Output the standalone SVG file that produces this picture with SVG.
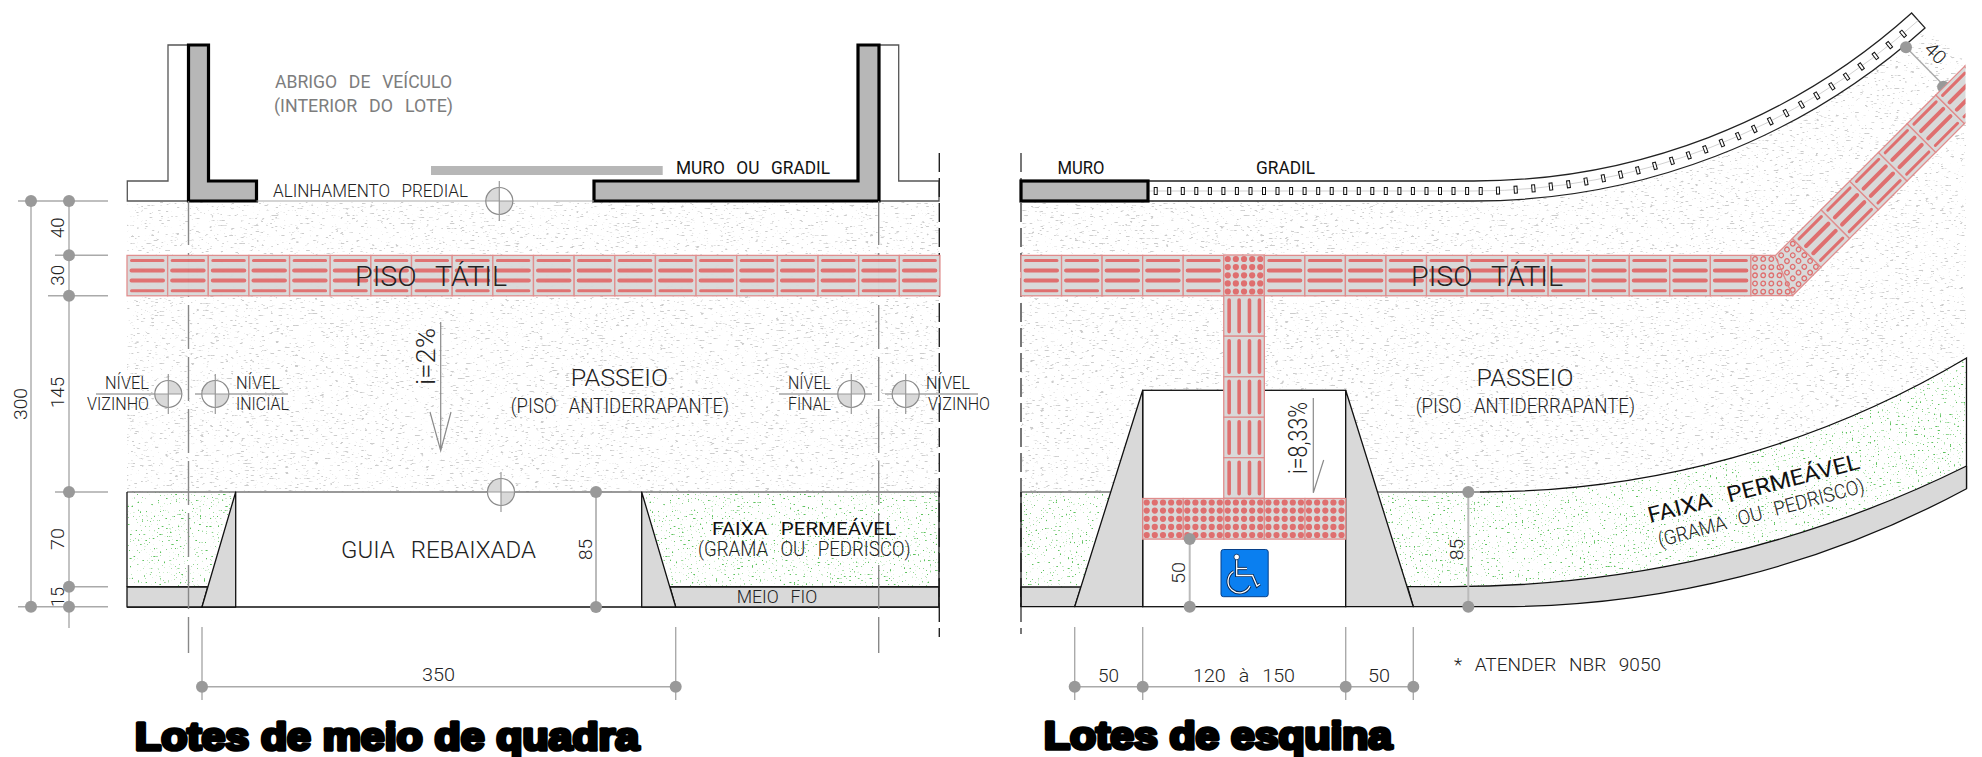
<svg xmlns="http://www.w3.org/2000/svg" width="1982" height="757" viewBox="0 0 1982 757">
<style>
.t{font-family:"Roboto","Liberation Sans",Arial,sans-serif;font-weight:300;fill:#222;word-spacing:.42em}
.m{font-weight:400;fill:#111}
.g{fill:#7d7d7d;font-weight:400}
.title{font-family:"Liberation Sans",Arial,sans-serif;font-weight:700;fill:#000;stroke:#000;stroke-width:3.6;stroke-linejoin:round;font-size:38px}
.dim{stroke:#aaa;stroke-width:1.4;fill:none}
.dimb{stroke:#bbb;stroke-width:2;fill:none}
.dot{fill:#999}
.wall{fill:#b7b7b7;stroke:#000;stroke-width:3.2}
.out{fill:#fff;stroke:#555;stroke-width:1.3}
.curb{fill:#d9d9d9;stroke:#111;stroke-width:1.3;stroke-linejoin:round}
.ln{stroke:#111;stroke-width:1.3;fill:none}
.lg{stroke:#777;stroke-width:1.6;fill:none}
.lt{stroke:#aaa;stroke-width:1.2;fill:none}
.dk{stroke:#888;stroke-width:1.4;fill:none;stroke-dasharray:44 8}
.dkb{stroke:#222;stroke-width:1.4;fill:none;stroke-dasharray:19 6}
.dkg{stroke:#777;stroke-width:2;fill:none;stroke-dasharray:19 6}
</style>
<defs>
<filter id="speck" x="0" y="0" width="1" height="1" color-interpolation-filters="sRGB"><feTurbulence type="fractalNoise" baseFrequency=".2 .6" numOctaves="2" seed="5"/><feColorMatrix type="matrix" values="0 0 0 0 .8 0 0 0 0 .8 0 0 0 0 .8 9 0 0 0 -5.85"/></filter>
<filter id="grass" x="0" y="0" width="1" height="1" color-interpolation-filters="sRGB"><feTurbulence type="fractalNoise" baseFrequency=".5" numOctaves="2" seed="11"/><feColorMatrix type="matrix" values="0 0 0 0 .36 0 0 0 0 .76 0 0 0 0 .36 14 0 0 0 -9.55"/></filter>
<clipPath id="pavL"><rect x="127" y="202" width="812" height="290"/></clipPath>
<clipPath id="pavR"><path d="M1021 201H1474A674 674 0 0 0 1925 28L1966 62V358A952 952 0 0 1 1480 492H1021Z"/></clipPath>
<clipPath id="grL1"><path d="M127 492H235.7L207.7 587H127Z"/></clipPath>
<clipPath id="grL2"><path d="M641.7 492H939V587H670Z"/></clipPath>
<clipPath id="grR1"><path d="M1021 492H1110.7L1081 587H1021Z"/></clipPath>
<clipPath id="grR2"><path d="M1377.5 492H1480A952 952 0 0 0 1966 358V466A1165 1165 0 0 1 1452 586.7H1407.5Z"/></clipPath>
<clipPath id="cut"><rect x="1700" y="0" width="265.5" height="320"/></clipPath>
<clipPath id="jA"><path d="M1751 255.3H1775L1792.7 295.3H1751Z"/></clipPath>
<clipPath id="jB"><path d="M0 0H40V-40.6H15.6Z"/></clipPath>
<g id="tH"><rect width="40.6" height="40.4" fill="#d9d9d9" stroke="#e08c8c" stroke-width="1.3"/><path d="M4.5 5H36M4.5 35.3H36" stroke="#df6f6f" stroke-width="3" stroke-linecap="round"/><path d="M4.5 15H36M4.5 25.2H36" stroke="#df6f6f" stroke-width="4" stroke-linecap="round"/></g>
<g id="tV"><rect width="40.6" height="40.6" fill="#d9d9d9" stroke="#e08c8c" stroke-width="1.3"/><path d="M5.4 4.5V36M15.4 4.5V36M25.7 4.5V36M35.7 4.5V36" stroke="#df6f6f" stroke-width="3.6" stroke-linecap="round"/></g>
<g id="dots" fill="#df6f6f"><circle cx="4" cy="0" r="3.1"/><circle cx="12.1" cy="0" r="3.1"/><circle cx="20.3" cy="0" r="3.1"/><circle cx="28.4" cy="0" r="3.1"/><circle cx="36.5" cy="0" r="3.1"/></g>
<g id="tD"><rect width="40.6" height="40.6" fill="#d9d9d9" stroke="#e08c8c" stroke-width="1.3"/><use href="#dots" y="4"/><use href="#dots" y="12.1"/><use href="#dots" y="20.3"/><use href="#dots" y="28.4"/><use href="#dots" y="36.5"/></g>
<g id="rings" fill="none" stroke="#df6f6f" stroke-width="1.3"><circle cx="4" cy="0" r="2.3"/><circle cx="12.2" cy="0" r="2.3"/><circle cx="20.3" cy="0" r="2.3"/><circle cx="28.5" cy="0" r="2.3"/><circle cx="36.7" cy="0" r="2.3"/></g>
<g id="tR"><use href="#rings" y="4"/><use href="#rings" y="12.2"/><use href="#rings" y="20.3"/><use href="#rings" y="28.5"/><use href="#rings" y="36.7"/></g>
<rect id="p" x="-1.5" y="-3.5" width="3" height="7" fill="#fff" stroke="#111" stroke-width="1"/>
<rect id="pa" x="1472.5" y="187.5" width="3" height="7" fill="#fff" stroke="#111" stroke-width="1"/>
<circle id="d" r="6" class="dot"/>
<g id="symA"><circle r="13.5" fill="#fff"/><path d="M0 0V-13.5A13.5 13.5 0 0 1 13.5 0ZM0 0V13.5A13.5 13.5 0 0 1 -13.5 0Z" fill="#d9d9d9"/><circle r="13.5" fill="none" stroke="#8a8a8a" stroke-width="1.2"/><path d="M0 -20V20M-14 0H14" stroke="#999" stroke-width="1.2"/></g>
<g id="symB"><circle r="13.5" fill="#fff"/><path d="M0 0H-13.5A13.5 13.5 0 0 1 0 -13.5ZM0 0H13.5A13.5 13.5 0 0 1 0 13.5Z" fill="#d9d9d9"/><circle r="13.5" fill="none" stroke="#8a8a8a" stroke-width="1.2"/><path d="M0 -20V20M-14 0H14" stroke="#999" stroke-width="1.2"/></g>
</defs>

<g id="textures">
<g clip-path="url(#pavL)"><rect x="127" y="202" width="812" height="290" filter="url(#speck)"/></g>
<g clip-path="url(#pavR)"><rect x="1021" y="0" width="946" height="492" filter="url(#speck)"/></g>
<g clip-path="url(#grL1)"><rect x="127" y="492" width="112" height="96" filter="url(#grass)"/></g>
<g clip-path="url(#grL2)"><rect x="641" y="492" width="298" height="96" filter="url(#grass)"/></g>
<g clip-path="url(#grR1)"><rect x="1021" y="492" width="92" height="96" filter="url(#grass)"/></g>
<g clip-path="url(#grR2)"><rect x="1377" y="350" width="590" height="240" filter="url(#grass)"/></g>
</g>

<g id="lote-meio-muros">
<path d="M127.3 201V181H168V45H188.5V201Z" class="out"/>
<path d="M879 45H898.7V181H939V201H879Z" class="out"/>
<path d="M188.5 45H208.5V181H256.5V201H188.5Z" class="wall"/>
<path d="M858 45H879V201H594V181H858Z" class="wall"/>
<rect x="431" y="166" width="231.7" height="9" fill="#b7b7b7"/>
<path d="M256.5 201H594" class="lt"/>
</g>

<g id="lote-meio-calcada">
<path d="M127 492H939" class="lg"/>
<path d="M127 607H939M127 587H207.7M670 587H939" class="ln"/>
<path d="M127 587H207.7L202 607H127Z" class="curb"/>
<path d="M670 587H939V607H675.7Z" class="curb"/>
<path d="M235.7 492V607H202Z" class="curb"/>
<path d="M641.7 492V607H675.7Z" class="curb"/>
<path d="M127 492V587M939 492V607" class="ln"/>
</g>

<g id="eixos">
<path d="M188.5 201V653" class="dk"/>
<path d="M878.7 201V653" class="dk"/>
<path d="M939.3 153V637" class="dkb"/>
<path d="M1021 153V634" class="dkg"/>
</g>

<g id="lote-meio-piso" opacity=".97">
<use href="#tH" x="127" y="255.4"/><use href="#tH" x="167.65" y="255.4"/><use href="#tH" x="208.3" y="255.4"/><use href="#tH" x="248.95" y="255.4"/><use href="#tH" x="289.6" y="255.4"/><use href="#tH" x="330.25" y="255.4"/><use href="#tH" x="370.9" y="255.4"/><use href="#tH" x="411.55" y="255.4"/><use href="#tH" x="452.2" y="255.4"/><use href="#tH" x="492.85" y="255.4"/><use href="#tH" x="533.5" y="255.4"/><use href="#tH" x="574.15" y="255.4"/><use href="#tH" x="614.8" y="255.4"/><use href="#tH" x="655.45" y="255.4"/><use href="#tH" x="696.1" y="255.4"/><use href="#tH" x="736.75" y="255.4"/><use href="#tH" x="777.4" y="255.4"/><use href="#tH" x="818.05" y="255.4"/><use href="#tH" x="858.7" y="255.4"/><use href="#tH" x="899.35" y="255.4"/>
</g>

<g id="esquina-gradil">
<path d="M1148 181H1474A654 654 0 0 0 1911.6 13L1925 27.9A674 674 0 0 1 1474 201H1148Z" fill="#fff" stroke="#222" stroke-width="1.3"/>
<path d="M1148 191H1474A664 664 0 0 0 1918.3 20.4" fill="none" stroke="#ccc" stroke-width=".9"/>
<use href="#p" x="1155.7" y="191"/><use href="#p" x="1169.2" y="191"/><use href="#p" x="1182.8" y="191"/><use href="#p" x="1196.3" y="191"/><use href="#p" x="1209.9" y="191"/><use href="#p" x="1223.4" y="191"/><use href="#p" x="1236.9" y="191"/><use href="#p" x="1250.5" y="191"/><use href="#p" x="1264" y="191"/><use href="#p" x="1277.5" y="191"/><use href="#p" x="1291.1" y="191"/><use href="#p" x="1304.6" y="191"/><use href="#p" x="1318.2" y="191"/><use href="#p" x="1331.7" y="191"/><use href="#p" x="1345.2" y="191"/><use href="#p" x="1358.8" y="191"/><use href="#p" x="1372.3" y="191"/><use href="#p" x="1385.8" y="191"/><use href="#p" x="1399.4" y="191"/><use href="#p" x="1412.9" y="191"/><use href="#p" x="1426.5" y="191"/><use href="#p" x="1440" y="191"/><use href="#p" x="1453.5" y="191"/><use href="#p" x="1467.1" y="191"/><use href="#p" x="1480.7" y="191"/>
<use href="#pa" transform="rotate(-2.07 1474 -473)"/><use href="#pa" transform="rotate(-3.6 1474 -473)"/><use href="#pa" transform="rotate(-5.13 1474 -473)"/><use href="#pa" transform="rotate(-6.65 1474 -473)"/><use href="#pa" transform="rotate(-8.18 1474 -473)"/><use href="#pa" transform="rotate(-9.71 1474 -473)"/><use href="#pa" transform="rotate(-11.23 1474 -473)"/><use href="#pa" transform="rotate(-12.76 1474 -473)"/><use href="#pa" transform="rotate(-14.29 1474 -473)"/><use href="#pa" transform="rotate(-15.81 1474 -473)"/><use href="#pa" transform="rotate(-17.34 1474 -473)"/><use href="#pa" transform="rotate(-18.87 1474 -473)"/><use href="#pa" transform="rotate(-20.39 1474 -473)"/><use href="#pa" transform="rotate(-21.92 1474 -473)"/><use href="#pa" transform="rotate(-23.45 1474 -473)"/><use href="#pa" transform="rotate(-24.97 1474 -473)"/><use href="#pa" transform="rotate(-26.5 1474 -473)"/><use href="#pa" transform="rotate(-28.03 1474 -473)"/><use href="#pa" transform="rotate(-29.55 1474 -473)"/><use href="#pa" transform="rotate(-31.08 1474 -473)"/><use href="#pa" transform="rotate(-32.61 1474 -473)"/><use href="#pa" transform="rotate(-34.13 1474 -473)"/><use href="#pa" transform="rotate(-35.66 1474 -473)"/><use href="#pa" transform="rotate(-37.19 1474 -473)"/><use href="#pa" transform="rotate(-38.71 1474 -473)"/><use href="#pa" transform="rotate(-40.25 1474 -473)"/>
<rect x="1021" y="181" width="127" height="20" class="wall"/>
</g>

<g id="esquina-calcada">
<path d="M1021 492H1110.7M1377.5 492H1480" class="lg"/>
<path d="M1480 492A952 952 0 0 0 1966.5 358V488.7" class="ln"/>
<path d="M1021 587H1081L1074.7 606.7H1021Z" class="curb"/>
<path d="M1407.5 586.7H1452A1165 1165 0 0 0 1966.5 466V488.7A983 983 0 0 1 1500 606.7H1413.3Z" class="curb"/>
<path d="M1021 492V607" class="ln"/>
</g>

<g id="esquina-rampa">
<rect x="1142.7" y="390.3" width="203" height="216.4" fill="#fff" stroke="#111" stroke-width="1.3"/>
<path d="M1142.7 390.3V606.7H1074.7Z" class="curb"/>
<path d="M1345.7 390.3V606.7H1413.3Z" class="curb"/>
</g>

<g id="esquina-piso">
<use href="#tH" x="1021" y="255.4"/><use href="#tH" x="1061.55" y="255.4"/><use href="#tH" x="1102.1" y="255.4"/><use href="#tH" x="1142.65" y="255.4"/><use href="#tH" x="1183.2" y="255.4"/><use href="#tD" x="1223.75" y="255"/><use href="#tH" x="1264.3" y="255.4"/><use href="#tH" x="1304.85" y="255.4"/><use href="#tH" x="1345.4" y="255.4"/><use href="#tH" x="1385.95" y="255.4"/><use href="#tH" x="1426.5" y="255.4"/><use href="#tH" x="1467.05" y="255.4"/><use href="#tH" x="1507.6" y="255.4"/><use href="#tH" x="1548.15" y="255.4"/><use href="#tH" x="1588.7" y="255.4"/><use href="#tH" x="1629.25" y="255.4"/><use href="#tH" x="1669.8" y="255.4"/><use href="#tH" x="1710.35" y="255.4"/>
<path d="M1750.9 255.4H1775L1792.7 295.6H1750.9Z" fill="#d9d9d9" stroke="#e08c8c" stroke-width="1.2"/>
<g clip-path="url(#jA)"><use href="#tR" x="1751" y="255"/></g>
<use href="#tV" x="1223.75" y="295.6"/><use href="#tV" x="1223.75" y="336.2"/><use href="#tV" x="1223.75" y="376.8"/><use href="#tV" x="1223.75" y="417.2"/><use href="#tV" x="1223.75" y="457.7"/>
<use href="#tD" x="1142.7" y="498.5"/><use href="#tD" x="1183.3" y="498.5"/><use href="#tD" x="1223.75" y="498.5"/><use href="#tD" x="1264.4" y="498.5"/><use href="#tD" x="1305" y="498.5"/>
<g clip-path="url(#cut)"><g transform="translate(1792.7 295.5) rotate(-45)">
<path d="M0 0H40V-40.6H15.6Z" fill="#d9d9d9" stroke="#e08c8c" stroke-width="1.2"/>
<g clip-path="url(#jB)"><use href="#tR" x="0" y="-40.6"/></g>
<use href="#tH" x="40" y="-40.5"/><use href="#tH" x="80.6" y="-40.5"/><use href="#tH" x="121.2" y="-40.5"/><use href="#tH" x="161.8" y="-40.5"/><use href="#tH" x="202.4" y="-40.5"/><use href="#tH" x="243" y="-40.5"/><use href="#tH" x="283.6" y="-40.5"/>
</g></g>
</g>

<g id="simbolo-acessibilidade">
<rect x="1221" y="549.5" width="47.2" height="47.2" rx="2.5" fill="#0a7ff0" stroke="#06408a" stroke-width="1"/>
<g fill="none" stroke="#0a2a55" stroke-width="3.2"><path d="M1236.7 560V575.5H1252.5L1257 586L1260 584"/><path d="M1236.7 568.5H1247"/><path d="M1233.5 571.5A11.5 11.5 0 1 0 1250 586"/></g>
<g fill="none" stroke="#fff" stroke-width="1.3"><path d="M1236.7 560V575.5H1252.5L1257 586L1260 584"/><path d="M1236.7 568.5H1247"/><path d="M1233.5 571.5A11.5 11.5 0 1 0 1250 586"/></g>
<circle cx="1236.7" cy="557" r="2.8" fill="#fff" stroke="#0a2a55" stroke-width=".8"/>
</g>

<g id="niveis">
<path d="M96 394H181M195 394H288M779 394H872M885 394H978" class="dimb" stroke-width="1.6"/>
<use href="#symA" x="168.3" y="394"/><use href="#symB" x="215.3" y="394"/>
<use href="#symA" x="851.3" y="394"/><use href="#symB" x="905.7" y="394"/>
<use href="#symB" x="499.3" y="201"/><use href="#symB" x="501" y="492"/>
</g>

<g id="connectors">
<path d="M18 201H108M55 255.3H108M48 295.7H108M55 492H108M69 586.7H108M18 606.7H108M31 201V606.7M69 201V628" class="dim"/>
<use href="#d" x="31" y="201"/><use href="#d" x="69" y="201"/><use href="#d" x="69" y="255.3"/><use href="#d" x="69" y="295.7"/><use href="#d" x="69" y="492"/><use href="#d" x="69" y="586.7"/><use href="#d" x="69" y="606.7"/><use href="#d" x="31" y="606.7"/>
<path d="M596 492V607" class="dimb"/><use href="#d" x="596" y="492"/><use href="#d" x="596" y="607"/>
<path d="M202 686.7H675.7M202 627V700M675.7 627V700" class="dim"/><use href="#d" x="202" y="686.7"/><use href="#d" x="675.7" y="686.7"/>
<path d="M1074.7 686.7H1413.3M1074.7 627V700M1142.7 627V700M1345.7 627V700M1413.3 627V700" class="dim"/>
<use href="#d" x="1074.7" y="686.7"/><use href="#d" x="1142.7" y="686.7"/><use href="#d" x="1345.7" y="686.7"/><use href="#d" x="1413.3" y="686.7"/>
<path d="M1189.7 539V606.7" class="dimb"/><use href="#d" x="1189.7" y="539"/><use href="#d" x="1189.7" y="606.7"/>
<path d="M1468.3 492V606.7" class="dimb"/><use href="#d" x="1468.3" y="492"/><use href="#d" x="1468.3" y="606.7"/>
<path d="M1906 47.3L1943.3 85" class="dim"/><use href="#d" x="1906" y="47.3"/>
<path d="M1939 91.5A6.2 6.2 0 0 1 1948 82.5Z" class="dot"/>
<path d="M440.7 322V450.7M430 412L440.7 450.7L451 412" fill="none" stroke="#8a8a8a" stroke-width="1.2"/>
<path d="M1313.3 398V492.7L1323.7 460" fill="none" stroke="#8a8a8a" stroke-width="1.2"/>
</g>

<g id="labels">
<text class="t g" x="275" y="88.3" font-size="19" textLength="177" lengthAdjust="spacingAndGlyphs">ABRIGO DE VEÍCULO</text>
<text class="t g" x="274" y="111.7" font-size="19" textLength="179" lengthAdjust="spacingAndGlyphs">(INTERIOR DO LOTE)</text>
<text class="t" x="273" y="197.3" font-size="19" textLength="195" lengthAdjust="spacingAndGlyphs">ALINHAMENTO PREDIAL</text>
<text class="t m" x="676" y="173.7" font-size="19" textLength="154" lengthAdjust="spacingAndGlyphs">MURO OU GRADIL</text>
<text class="t" x="355" y="285.7" font-size="28" textLength="152" lengthAdjust="spacingAndGlyphs">PISO TÁTIL</text>
<text class="t" x="1411" y="285.7" font-size="28" textLength="152" lengthAdjust="spacingAndGlyphs">PISO TÁTIL</text>
<text class="t" x="105" y="389" font-size="18" textLength="44" lengthAdjust="spacingAndGlyphs">NÍVEL</text>
<text class="t" x="87" y="409.5" font-size="18" textLength="62" lengthAdjust="spacingAndGlyphs">VIZINHO</text>
<text class="t" x="236" y="389" font-size="18" textLength="44" lengthAdjust="spacingAndGlyphs">NÍVEL</text>
<text class="t" x="236" y="409.5" font-size="18" textLength="53" lengthAdjust="spacingAndGlyphs">INICIAL</text>
<text class="t" x="788" y="389" font-size="18" textLength="43" lengthAdjust="spacingAndGlyphs">NÍVEL</text>
<text class="t" x="788" y="409.5" font-size="18" textLength="43" lengthAdjust="spacingAndGlyphs">FINAL</text>
<text class="t" x="926" y="389" font-size="18" textLength="44" lengthAdjust="spacingAndGlyphs">NÍVEL</text>
<text class="t" x="928" y="409.5" font-size="18" textLength="62" lengthAdjust="spacingAndGlyphs">VIZINHO</text>
<text class="t" x="570.7" y="385.7" font-size="23" textLength="97.3" lengthAdjust="spacingAndGlyphs">PASSEIO</text>
<text class="t" x="510.7" y="413.3" font-size="21" textLength="218.3" lengthAdjust="spacingAndGlyphs">(PISO ANTIDERRAPANTE)</text>
<text class="t" x="341" y="557.7" font-size="24" textLength="195" lengthAdjust="spacingAndGlyphs">GUIA REBAIXADA</text>
<text class="t m" x="712" y="535" font-size="19" textLength="184" lengthAdjust="spacingAndGlyphs">FAIXA PERMEÁVEL</text>
<text class="t" x="698" y="555.7" font-size="20" textLength="212.7" lengthAdjust="spacingAndGlyphs">(GRAMA OU PEDRISCO)</text>
<text class="t" x="736.7" y="602.7" font-size="18" textLength="80.6" lengthAdjust="spacingAndGlyphs">MEIO FIO</text>
<text class="t" x="422" y="681" font-size="19" textLength="33" lengthAdjust="spacingAndGlyphs">350</text>
<text class="t" transform="translate(26.7 420) rotate(-90)" font-size="19" textLength="32" lengthAdjust="spacingAndGlyphs">300</text>
<text class="t" transform="translate(64 238) rotate(-90)" font-size="19" textLength="20.5" lengthAdjust="spacingAndGlyphs">40</text>
<text class="t" transform="translate(64 285.7) rotate(-90)" font-size="19" textLength="20.7" lengthAdjust="spacingAndGlyphs">30</text>
<text class="t" transform="translate(64 408) rotate(-90)" font-size="19" textLength="31" lengthAdjust="spacingAndGlyphs">145</text>
<text class="t" transform="translate(64 550) rotate(-90)" font-size="19" textLength="22" lengthAdjust="spacingAndGlyphs">70</text>
<text class="t" transform="translate(64 607) rotate(-90)" font-size="19" textLength="20" lengthAdjust="spacingAndGlyphs">15</text>
<text class="t" transform="translate(591.7 560) rotate(-90)" font-size="19" textLength="21" lengthAdjust="spacingAndGlyphs">85</text>
<text class="t" transform="translate(435 385) rotate(-90)" font-size="25" textLength="57" lengthAdjust="spacingAndGlyphs">i=2%</text>
<text class="title" x="135" y="750" textLength="504" lengthAdjust="spacingAndGlyphs">Lotes de meio de quadra</text>
<text class="t m" x="1057.5" y="173.7" font-size="19" textLength="47" lengthAdjust="spacingAndGlyphs">MURO</text>
<text class="t m" x="1256" y="173.7" font-size="19" textLength="59" lengthAdjust="spacingAndGlyphs">GRADIL</text>
<text class="t" x="1476.5" y="386" font-size="23" textLength="97" lengthAdjust="spacingAndGlyphs">PASSEIO</text>
<text class="t" x="1415.7" y="413.3" font-size="21" textLength="219.3" lengthAdjust="spacingAndGlyphs">(PISO ANTIDERRAPANTE)</text>
<text class="t m" transform="translate(1650 523) rotate(-14.5)" font-size="22" textLength="218" lengthAdjust="spacingAndGlyphs">FAIXA PERMEÁVEL</text>
<text class="t" transform="translate(1660 547) rotate(-15)" font-size="20" textLength="213" lengthAdjust="spacingAndGlyphs">(GRAMA OU PEDRISCO)</text>
<text class="t" transform="translate(1185 584) rotate(-90)" font-size="19" textLength="22" lengthAdjust="spacingAndGlyphs">50</text>
<text class="t" transform="translate(1463.4 560) rotate(-90)" font-size="19" textLength="21" lengthAdjust="spacingAndGlyphs">85</text>
<text class="t" transform="translate(1306.7 474) rotate(-90)" font-size="25" textLength="72" lengthAdjust="spacingAndGlyphs">i=8,33%</text>
<text class="t" x="1098" y="681.7" font-size="19" textLength="21" lengthAdjust="spacingAndGlyphs">50</text>
<text class="t" x="1193" y="681.7" font-size="19" textLength="102" lengthAdjust="spacingAndGlyphs">120 à 150</text>
<text class="t" x="1368" y="681.7" font-size="19" textLength="22" lengthAdjust="spacingAndGlyphs">50</text>
<text class="t" x="1454" y="670.7" font-size="19" textLength="207" lengthAdjust="spacingAndGlyphs">* ATENDER NBR 9050</text>
<text class="t" transform="translate(1923 50) rotate(45)" font-size="19" textLength="22" lengthAdjust="spacingAndGlyphs">40</text>
<text class="title" x="1044" y="749" textLength="348" lengthAdjust="spacingAndGlyphs">Lotes de esquina</text>
</g>
</svg>
